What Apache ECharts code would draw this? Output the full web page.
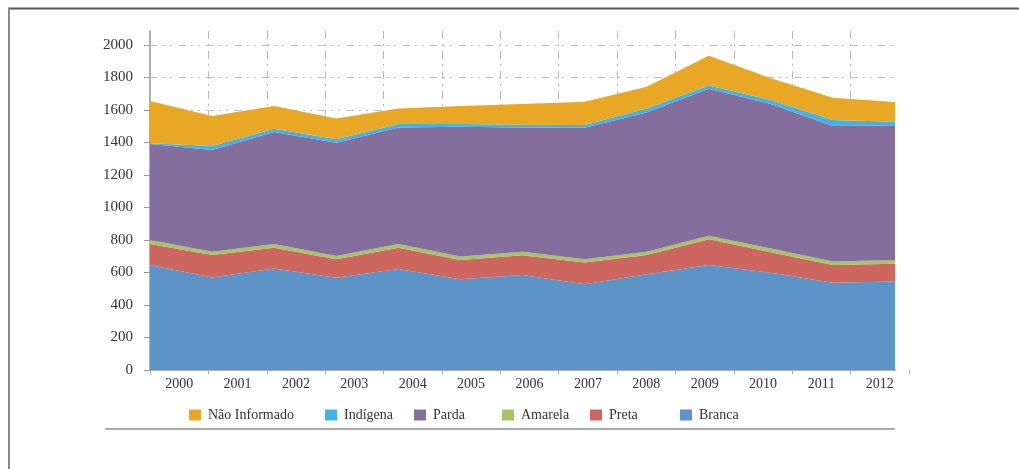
<!DOCTYPE html>
<html>
<head>
<meta charset="utf-8">
<script src="https://cdn.jsdelivr.net/npm/echarts@6/dist/echarts.min.js"></script>
<style>
html,body{margin:0;padding:0;background:#fff;}
#chart{width:1019px;height:469px;}
</style>
</head>
<body>
<div id="chart"></div>
<script>
const years = ['2000','2001','2002','2003','2004','2005','2006','2007','2008','2009','2010','2011','2012'];
const branca       = [646, 570, 624, 568, 621, 558, 585, 527, 589, 646, 599, 537, 544];
const preta        = [129, 138, 129, 113, 132, 119, 121, 135, 119, 158, 125, 109, 110];
const amarela      = [ 25,  20,  22,  21,  22,  21,  22,  19,  20,  22,  24,  21,  23];
const parda        = [591, 626, 690, 697, 718, 799, 765, 810, 856, 905, 889, 834, 829];
const indigena     = [  4,  24,  20,  21,  21,  17,  17,  17,  26,  20,  25,  37,  22];
const naoInformado = [260, 185, 140, 127,  96, 111, 127, 143, 133, 183, 133, 138, 121];
const yTicks = [0, 2000, 200];

const colors = {
  'Não Informado': '#E8A724',
  'Indígena': '#45B2E4',
  'Parda': '#846E9E',
  'Amarela': '#A6C46A',
  'Preta': '#CE6660',
  'Branca': '#5D93C6'
};

const serif = '"Liberation Serif", "DejaVu Serif", serif';

const seriesDefs = [
  ['Branca', branca],
  ['Preta', preta],
  ['Amarela', amarela],
  ['Parda', parda],
  ['Indígena', indigena],
  ['Não Informado', naoInformado]
];

const legendPos = [
  ['Não Informado', 184],
  ['Indígena', 320],
  ['Parda', 409],
  ['Amarela', 497],
  ['Preta', 585],
  ['Branca', 675]
];

const chart = echarts.init(document.getElementById('chart'));
chart.setOption({
  animation: false,
  backgroundColor: '#fff',
  legend: legendPos.map(([name, x]) => ({
    data: [name],
    left: x,
    top: 403,
    itemWidth: 12,
    itemHeight: 11,
    icon: 'rect',
    selectedMode: false,
    textStyle: { fontFamily: serif, fontSize: 14, color: '#333', padding: [0, 0, 0, 2] }
  })),
  grid: [
    { left: 150, right: 124, top: 45, bottom: 99 },
    { left: 150, right: 110, top: 31, bottom: 99 }
  ],
  xAxis: [
    {
      type: 'category', gridIndex: 0, data: years, boundaryGap: false,
      axisLine: { show: true, lineStyle: { color: '#b0b0b0', width: 2 } },
      axisTick: { show: false }, axisLabel: { show: false }, splitLine: { show: false }
    },
    {
      type: 'category', gridIndex: 1, data: years, boundaryGap: true,
      axisLine: { show: false },
      axisTick: { show: true, length: 4, lineStyle: { color: '#aaa' } },
      axisLabel: { show: true, fontFamily: serif, fontSize: 14, color: '#333', margin: 7 },
      splitLine: { show: true, showMinLine: false, showMaxLine: false,
        lineStyle: { color: '#b8b8b8', width: 1, type: [8, 5, 2, 5] } }
    }
  ],
  yAxis: [
    {
      type: 'value', gridIndex: 0, min: yTicks[0], max: yTicks[1], interval: yTicks[2],
      axisLine: { show: true, lineStyle: { color: '#b0b0b0', width: 2 } },
      axisTick: { show: true, length: 6, lineStyle: { color: '#999', width: 1 } },
      axisLabel: { fontFamily: serif, fontSize: 15, color: '#333', margin: 17,
        formatter: (v) => String(v) },
      splitLine: { show: true, lineStyle: { color: '#c0c0c0', width: 1, type: [8, 5, 2, 5, 2, 6] } }
    },
    {
      type: 'value', gridIndex: 1, min: 0, max: 1,
      axisLine: { show: true, lineStyle: { color: '#b0b0b0', width: 2 } },
      axisTick: { show: false }, axisLabel: { show: false }, splitLine: { show: false }
    }
  ],
  series: seriesDefs.map(([name, vals]) => ({
    name: name,
    type: 'line',
    xAxisIndex: 0,
    yAxisIndex: 0,
    stack: 'total',
    data: vals,
    symbol: 'none',
    showSymbol: false,
    lineStyle: { width: 0 },
    itemStyle: { color: colors[name] },
    areaStyle: { color: colors[name], opacity: 1 },
    z: 3
  })),
  graphic: [
    { type: 'line', shape: { x1: 8, y1: 8.5, x2: 1019, y2: 8.5 }, style: { stroke: '#555', lineWidth: 2 } },
    { type: 'line', shape: { x1: 9, y1: 8, x2: 9, y2: 469 }, style: { stroke: '#888', lineWidth: 2 } },
    { type: 'line', shape: { x1: 105, y1: 429, x2: 895, y2: 429 }, style: { stroke: '#aaa', lineWidth: 2 } }
  ]
});
</script>
</body>
</html>
